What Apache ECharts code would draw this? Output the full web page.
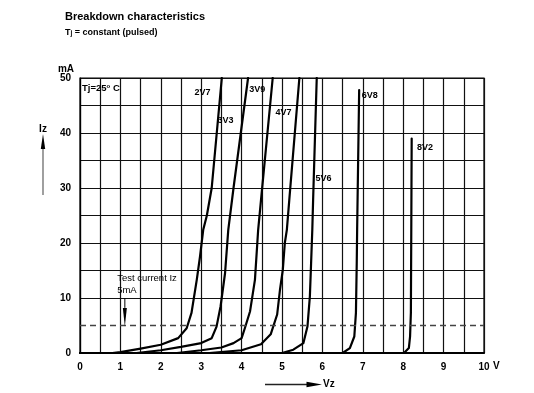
<!DOCTYPE html>
<html><head><meta charset="utf-8">
<script src="https://cdn.jsdelivr.net/npm/echarts@6/dist/echarts.min.js"></script>
<style>html,body{margin:0;padding:0;background:#fff}#c{width:534px;height:393px}</style>
</head><body><div id="c"></div>
<script>
const FONT = '"Liberation Sans", Arial, Helvetica, sans-serif';

// Tick labels
const xTicks = [0, 1, 2, 3, 4, 5, 6, 7, 8, 9, 10];
const yTicks = [0, 10, 20, 30, 40, 50];

// Curve names and label anchor points [Vz, Iz]
const curveNames = ['2V7', '3V3', '3V9', '4V7', '5V6', '6V8', '8V2'];
const curveLabelPos = [[3.03, 47.4], [3.60, 42.3], [4.39, 47.9], [5.04, 43.8], [6.03, 31.8], [7.17, 46.9], [8.54, 37.3]];

// Curves [Vz (V), Iz (mA)]
const c2V7 = [[0,0],[0.8,0],[1.0,0.15],[1.5,0.8],[2.0,1.5],[2.43,2.7],[2.64,4.5],[2.76,7.3],[2.89,13.3],[2.97,17.5],[3.05,22.4],[3.14,25],[3.26,30],[3.51,50]];
const c3V3 = [[0,0],[1.4,0],[2.0,0.5],[2.5,1.1],[3.0,1.8],[3.26,2.7],[3.38,4.8],[3.48,8.5],[3.59,14.5],[3.67,22.4],[3.80,30],[3.98,40],[4.16,50]];
const c3V9 = [[0,0],[2.4,0],[3.0,0.5],[3.5,1.0],[3.8,1.8],[4.0,2.7],[4.08,4.5],[4.21,7.6],[4.33,13.3],[4.41,22.4],[4.48,27.8],[4.77,50]];
const c4V7 = [[0,0],[3.2,0],[4.0,0.5],[4.48,1.6],[4.72,3.4],[4.88,7.0],[4.95,11.5],[5.02,15.1],[5.07,20],[5.12,22.4],[5.18,27.8],[5.43,50]];
const c5V6 = [[0,0],[5.0,0],[5.28,0.6],[5.53,1.8],[5.63,4.8],[5.69,10.3],[5.72,16.3],[5.75,22.4],[5.77,27.8],[5.86,50]];
const c6V8 = [[0,0],[6.5,0],[6.68,0.9],[6.79,3.0],[6.83,7.3],[6.85,16.3],[6.86,22.4],[6.91,47.8]];
const c8V2 = [[0,0],[8.02,0],[8.14,0.9],[8.17,3.0],[8.19,7.3],[8.20,22.4],[8.21,39]];
const curves = [c2V7, c3V3, c3V9, c4V7, c5V6, c6V8, c8V2];

// Test current
const testCurrent = 5;
const testArrowX = 1.11;
const testArrow = [10, 8.2, 4.8]; // shaft top, head base, tip (mA)
const testText = [[0.92, 13.5, 'Test current Iz'], [0.92, 11.3, '5mA']];
const tjText = [[0.05, 48.1, '{a|Tj=25}{s|o}{a| C}']];

const yGridColors = [];
for (let v = 0; v <= 50; v += 5) yGridColors.push(v === testCurrent ? 'rgba(0,0,0,0)' : '#111');

const chart = echarts.init(document.getElementById('c'), null, {renderer: 'canvas'});

const curveSeries = curves.map((d, i) => ({
  type: 'line', name: curveNames[i], data: d, showSymbol: false, silent: true,
  smooth: false, z: 4,
  lineStyle: {color: '#000', width: 2.2, join: 'round', cap: 'round'}
}));
curveSeries[0].markLine = {
  silent: true, symbol: 'none', label: {show: false},
  lineStyle: {type: [6, 4], color: '#444', width: 1.3},
  data: [{yAxis: testCurrent}]
};

function textLayer(data, label) {
  return {type: 'scatter', silent: true, z: 6, symbolSize: 0,
    itemStyle: {color: 'rgba(0,0,0,0)', opacity: 1},
    emphasis: {disabled: true},
    data: data,
    label: Object.assign({show: true, position: [0, 0], verticalAlign: 'middle', opacity: 1,
      textBorderWidth: 0, formatter: p => p.data[2], color: '#000', fontFamily: FONT}, label)};
}

const option = {
  animation: false,
  backgroundColor: '#fff',
  title: [
    {text: 'Breakdown characteristics', left: 65, top: 11, padding: 0,
     textStyle: {fontSize: 11, fontWeight: 'bold', color: '#000', fontFamily: FONT}},
    {text: 'T{sub|j} = constant (pulsed)', left: 65, top: 28, padding: 0,
     textStyle: {fontSize: 9, fontWeight: 'bold', color: '#000', fontFamily: FONT,
       rich: {sub: {fontSize: 6.5, fontWeight: 'bold', color: '#000', fontFamily: FONT, verticalAlign: 'bottom'}}}}
  ],
  grid: {left: 80, right: 50, top: 78, bottom: 40, show: true, borderColor: '#000', borderWidth: 1.2, outerBoundsMode: 'none', containLabel: false},
  xAxis: {
    type: 'value', min: 0, max: 10, interval: 0.5,
    axisLine: {show: true, onZero: false, lineStyle: {color: '#000', width: 2.2}},
    axisTick: {show: false},
    axisLabel: {margin: 9, fontSize: 10, fontWeight: 'bold', color: '#000', fontFamily: FONT,
      formatter: v => xTicks.includes(v) ? String(v) : ''},
    splitLine: {show: true, lineStyle: {color: '#111', width: 1.2}}
  },
  yAxis: {
    type: 'value', min: 0, max: 50, interval: 5,
    axisLine: {show: true, lineStyle: {color: '#000', width: 1.2}},
    axisTick: {show: false},
    axisLabel: {margin: 9, fontSize: 10, fontWeight: 'bold', color: '#000', fontFamily: FONT,
      formatter: v => yTicks.includes(v) ? String(v) : ''},
    splitLine: {show: true, lineStyle: {color: yGridColors, width: 1.2}}
  },
  series: curveSeries.concat([
    textLayer(curveNames.map((n, i) => [curveLabelPos[i][0], curveLabelPos[i][1], n]),
      {align: 'center', fontSize: 9, fontWeight: 'bold'}),
    textLayer(testText, {align: 'left', fontSize: 9.5, fontWeight: 'normal'}),
    textLayer(tjText, {align: 'left',
      rich: {a: {fontSize: 9.5, fontWeight: 'bold', color: '#000', fontFamily: FONT},
             s: {fontSize: 6, fontWeight: 'bold', color: '#000', fontFamily: FONT, verticalAlign: 'top'}}})
  ])
};
chart.setOption(option);

// Annotations positioned through the chart's own scales
const pTop = chart.convertToPixel({gridIndex: 0}, [testArrowX, testArrow[0]]);
const pBase = chart.convertToPixel({gridIndex: 0}, [testArrowX, testArrow[1]]);
const pTip = chart.convertToPixel({gridIndex: 0}, [testArrowX, testArrow[2]]);
const ax0 = chart.convertToPixel({gridIndex: 0}, [0, 0]);
const ax50 = chart.convertToPixel({gridIndex: 0}, [10, 50]);
const bold = {fontSize: 10, fontWeight: 'bold', fill: '#000', fontFamily: FONT};

chart.setOption({
  graphic: [
    // test current arrow
    {type: 'line', z: 10, shape: {x1: pTop[0], y1: pTop[1], x2: pBase[0], y2: pBase[1]}, style: {stroke: '#000', lineWidth: 1}},
    {type: 'polygon', z: 10, shape: {points: [[pBase[0] - 2, pBase[1]], [pBase[0] + 2, pBase[1]], [pTip[0], pTip[1]]]}, style: {fill: '#000'}},
    // mA unit
    {type: 'text', z: 10, x: ax0[0] - 14, y: ax50[1] - 9, style: Object.assign({text: 'mA', align: 'center', verticalAlign: 'middle'}, bold)},
    // Iz arrow + label
    {type: 'line', z: 10, shape: {x1: 43, y1: 195, x2: 43, y2: 147}, style: {stroke: '#777', lineWidth: 1.4}},
    {type: 'polygon', z: 10, shape: {points: [[40.8, 149], [45.2, 149], [43, 134]]}, style: {fill: '#000'}},
    {type: 'text', z: 10, x: 43, y: 129.5, style: Object.assign({text: 'Iz', align: 'center', verticalAlign: 'middle'}, bold)},
    // V unit
    {type: 'text', z: 10, x: ax50[0] + 9, y: ax0[1] + 13.5, style: Object.assign({text: 'V', align: 'left', verticalAlign: 'middle'}, bold)},
    // Vz arrow + label
    {type: 'line', z: 10, shape: {x1: 265, y1: 384.5, x2: 308, y2: 384.5}, style: {stroke: '#222', lineWidth: 1.3}},
    {type: 'polygon', z: 10, shape: {points: [[306.5, 381.7], [306.5, 387.3], [322, 384.5]]}, style: {fill: '#000'}},
    {type: 'text', z: 10, x: 323, y: 384.5, style: Object.assign({text: 'Vz', align: 'left', verticalAlign: 'middle'}, bold)}
  ]
});
</script>
</body></html>
